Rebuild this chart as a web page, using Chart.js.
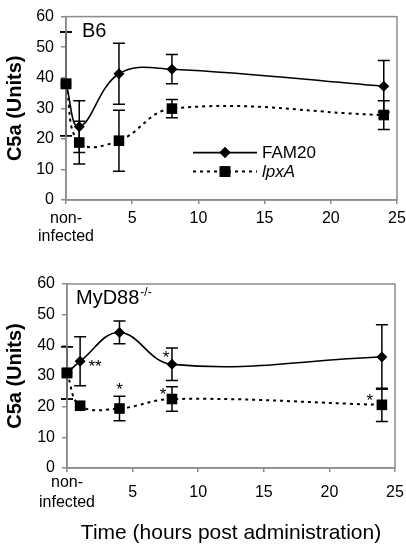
<!DOCTYPE html>
<html>
<head>
<meta charset="utf-8">
<script src="https://cdn.jsdelivr.net/npm/chart.js@4"></script>
<style>
  html, body { margin: 0; padding: 0; background: #fff; }
  #wrap { position: relative; width: 406px; height: 547px; overflow: hidden; }
  canvas { position: absolute; left: 0; }
  #topChart { top: 0; }
  #botChart { top: 245px; }
</style>
</head>
<body>
<div id="wrap">
  <canvas id="topChart" width="406" height="245"></canvas>
  <canvas id="botChart" width="406" height="302"></canvas>
</div>
<script>
// hours after administration (0 = non-infected)
var hours = [0, 1, 4, 8, 24];
var xTicks = [0, 5, 10, 15, 20, 25];
var yTicks = [0, 10, 20, 30, 40, 50, 60];

// B6 mice
var b6Fam20 = [38, 24, 41.3, 42.8, 37.2];
var b6Fam20Err = [17, 8.5, 10, 4.8, 8.4];
var b6LpxA = [38, 18.8, 19.4, 29.9, 27.8];
var b6LpxAErr = [17, 7, 10, 3, 4.7];

// MyD88-/- mice
var myFam20 = [31, 34.8, 44.2, 33.8, 36.2];
var myFam20Err = [8.5, 8, 3.7, 5.3, 10.5];
var myFam20Sig = ['', '**', '', '*', ''];
var myLpxA = [31, 20.3, 19.4, 22.5, 20.6];
var myLpxAErr = [8.5, 0, 4, 4, 5.4];
var myLpxASig = ['', '', '*', '*', '*'];

var FONT = "Arial, 'Liberation Sans', sans-serif";

// where the stars sit next to a point (pixels)
var sigOffset = {
  '0-1': [15, 2], '0-3': [-6, -10],
  '1-2': [0, -22], '1-3': [-9, -8], '1-4': [-12, -8]
};

function pts(ys) {
  return hours.map(function (h, i) { return {x: h, y: ys[i]}; });
}

var extras = {
  id: 'extras',
  beforeDatasetsDraw: function (chart) {
    var ctx = chart.ctx, xs = chart.scales.x, ys = chart.scales.y;
    ctx.save();
    ctx.strokeStyle = '#000';
    ctx.lineWidth = 1.5;
    chart.data.datasets.forEach(function (ds) {
      ds.data.forEach(function (p, i) {
        var e = ds.err[i];
        if (!e) return;
        var px = xs.getPixelForValue(p.x);
        var t = ys.getPixelForValue(p.y + e), b = ys.getPixelForValue(p.y - e);
        ctx.beginPath();
        ctx.moveTo(px, t); ctx.lineTo(px, b);
        ctx.moveTo(px - 6, t); ctx.lineTo(px + 6, t);
        ctx.moveTo(px - 6, b); ctx.lineTo(px + 6, b);
        ctx.stroke();
      });
    });
    ctx.restore();
  },
  afterDraw: function (chart) {
    var ctx = chart.ctx, a = chart.chartArea;
    var xs = chart.scales.x, ys = chart.scales.y;
    var o = chart.options.plugins.extras;
    ctx.save();
    // frame
    ctx.strokeStyle = '#8c8c8c';
    ctx.lineWidth = 1.5;
    ctx.strokeRect(a.left, a.top, a.right - a.left, a.bottom - a.top);

    // redraw markers on top of the frame at x = 0
    chart.data.datasets.forEach(function (ds, di) {
      chart.getDatasetMeta(di).data.forEach(function (el, i) {
        if (ds.data[i].x === 0) el.draw(ctx);
      });
    });

    // significance stars
    ctx.fillStyle = '#000';
    ctx.font = '17px ' + FONT;
    ctx.textAlign = 'center';
    ctx.textBaseline = 'middle';
    chart.data.datasets.forEach(function (ds, di) {
      if (!ds.sig) return;
      ds.data.forEach(function (p, i) {
        if (!ds.sig[i]) return;
        var off = sigOffset[di + '-' + i] || [0, -12];
        ctx.fillText(ds.sig[i], xs.getPixelForValue(p.x) + off[0], ys.getPixelForValue(p.y) + off[1] + 4);
      });
    });

    // panel label
    ctx.textAlign = 'left';
    ctx.textBaseline = 'alphabetic';
    ctx.font = '20px ' + FONT;
    ctx.fillText(o.label, a.left + o.labelDx, a.top + 20);
    if (o.sup) {
      var w = ctx.measureText(o.label).width;
      ctx.font = '12px ' + FONT;
      ctx.fillText(o.sup, a.left + o.labelDx + w + 1, a.top + 12);
    }

    // legend
    if (o.legend) {
      var lx = 193, rx = 257, mx = 225;
      var rows = [{y: a.top + 136, dash: [], style: 'rectRot', r: 5.5, text: 'FAM20', italic: false},
                  {y: a.top + 155, dash: [3, 4], style: 'rect', r: 7.5, text: 'lpxA', italic: true}];
      rows.forEach(function (row, k) {
        var ds = chart.data.datasets[k];
        ctx.strokeStyle = '#000';
        ctx.lineWidth = ds.borderWidth;
        ctx.setLineDash(row.dash);
        ctx.beginPath();
        ctx.moveTo(lx, row.y); ctx.lineTo(rx, row.y);
        ctx.stroke();
        ctx.setLineDash([]);
        ctx.fillStyle = '#000';
        Chart.helpers.drawPoint(ctx, {pointStyle: row.style, radius: row.r, borderWidth: 0}, mx, row.y);
        ctx.fill();
        ctx.font = (row.italic ? 'italic ' : '') + '17px ' + FONT;
        ctx.textBaseline = 'middle';
        ctx.fillText(row.text, 262, row.y + 1);
      });
    }
    ctx.restore();
  }
};

function makeChart(id, fam, famErr, famSig, lpx, lpxErr, lpxSig, o) {
  return new Chart(document.getElementById(id), {
    type: 'line',
    data: {
      datasets: [
        {label: 'FAM20', data: pts(fam), err: famErr, sig: famSig,
         borderColor: '#000', backgroundColor: '#000', borderWidth: 1.6,
         pointStyle: 'rectRot', pointRadius: 5.5, pointBorderWidth: 0,
         tension: 0.4, fill: false, clip: false},
        {label: 'lpxA', data: pts(lpx), err: lpxErr, sig: lpxSig,
         borderColor: '#000', backgroundColor: '#000', borderWidth: 2,
         borderDash: [3, 4], pointStyle: 'rect', pointRadius: 7.5, pointBorderWidth: 0,
         tension: 0.4, fill: false, clip: false}
      ]
    },
    options: {
      responsive: false,
      animation: false,
      layout: {padding: {top: o.padTop, right: o.padRight, left: 0, bottom: 0}},
      plugins: {
        legend: {display: false},
        tooltip: {enabled: false},
        extras: o
      },
      scales: {
        x: {
          type: 'linear', min: 0, max: 25,
          afterBuildTicks: function (s) { s.ticks = xTicks.map(function (v) { return {value: v}; }); },
          afterFit: function (s) { s.height = o.xHeight; s.paddingLeft = 0; s.paddingRight = 0; },
          grid: {drawOnChartArea: false, color: '#8c8c8c', tickLength: 4, lineWidth: 1.5},
          border: {color: '#8c8c8c', width: 1.5},
          ticks: {
            color: '#000', padding: o.xPad, maxRotation: 0, autoSkip: false, crossAlign: o.xAlign,
            font: {family: FONT, size: 16, lineHeight: o.xLine},
            callback: function (v) { return v === 0 ? ['non-', 'infected'] : String(v); }
          },
          title: {
            display: !!o.xTitle, text: o.xTitle || '', color: '#000',
            font: {family: FONT, size: 21}, padding: {top: 0, bottom: 1}
          }
        },
        y: {
          min: 0, max: 60,
          afterBuildTicks: function (s) { s.ticks = yTicks.map(function (v) { return {value: v}; }); },
          afterFit: function (s) { s.width = o.yWidth; },
          grid: {drawOnChartArea: false, color: '#8c8c8c', tickLength: 5, lineWidth: 1.5},
          border: {color: '#8c8c8c', width: 1.5},
          ticks: {color: '#000', padding: 7, font: {family: FONT, size: 16}},
          title: {
            display: true, text: 'C5a (Units)', color: '#000',
            font: {family: FONT, size: 20, weight: 'bold'}, padding: {top: 3, bottom: 0}
          }
        }
      }
    },
    plugins: [extras]
  });
}

makeChart('topChart', b6Fam20, b6Fam20Err, null, b6LpxA, b6LpxAErr, null,
  {padTop: 14, padRight: 9, xHeight: 45, yWidth: 66, xPad: 5, xAlign: 'near', xLine: 1.15,
   label: 'B6', labelDx: 16, legend: true});
makeChart('botChart', myFam20, myFam20Err, myFam20Sig, myLpxA, myLpxAErr, myLpxASig,
  {padTop: 39, padRight: 11, xHeight: 79, yWidth: 67, xPad: 11, xAlign: 'center', xLine: 1.25,
   label: 'MyD88', sup: '-/-', labelDx: 9,
   legend: false, xTitle: 'Time (hours post administration)'});
</script>
</body>
</html>
